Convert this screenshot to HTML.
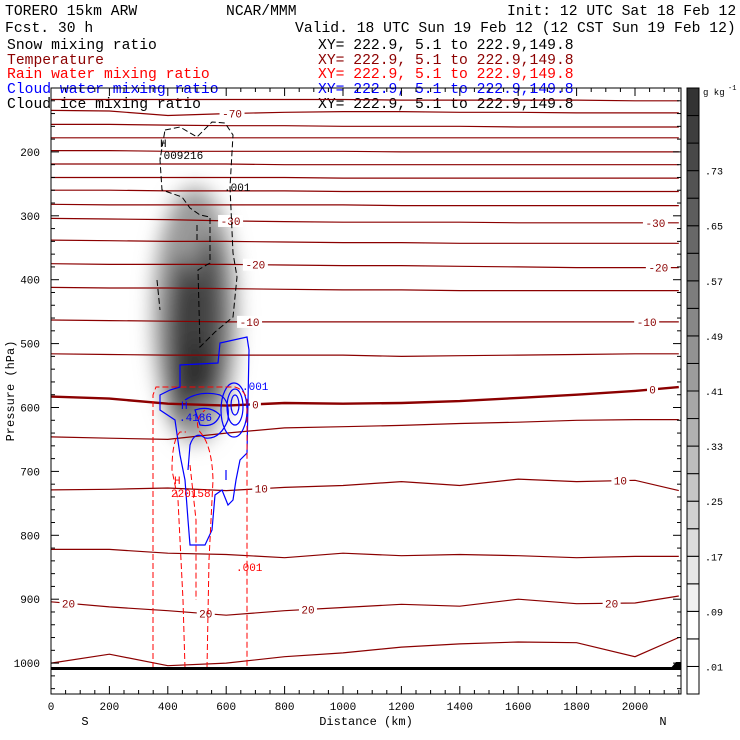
<!DOCTYPE html>
<html><head><meta charset="utf-8"><style>
body{margin:0;background:#fff;}
svg{display:block;font-family:"Liberation Mono",monospace;}
</style></head><body>
<svg id="chart" width="740" height="740" viewBox="0 0 740 740" xmlns="http://www.w3.org/2000/svg">
<defs>
<filter id="blur" x="-50%" y="-50%" width="200%" height="200%"><feGaussianBlur stdDeviation="10"/></filter>
<clipPath id="plotclip"><rect x="51" y="88" width="630" height="606"/></clipPath>
</defs>
<g font-size="14.7">
<text x="5" y="15" fill="#000">TORERO  15km ARW</text>
<text x="226" y="15" fill="#000">NCAR/MMM</text>
<text x="507" y="15" fill="#000">Init: 12 UTC Sat 18 Feb 12</text>
<text x="5" y="32" fill="#000">Fcst.   30 h</text>
<text x="295" y="32" fill="#000">Valid. 18 UTC Sun 19 Feb 12 (12 CST Sun 19 Feb 12)</text>
<text x="7" y="49" fill="#000">Snow mixing ratio</text>
<text x="318" y="49" fill="#000">XY= 222.9,  5.1 to 222.9,149.8</text>
<text x="7" y="64" fill="#8b0000">Temperature</text>
<text x="318" y="64" fill="#8b0000">XY= 222.9,  5.1 to 222.9,149.8</text>
<text x="7" y="78" fill="#ff0000">Rain water mixing ratio</text>
<text x="318" y="78" fill="#ff0000">XY= 222.9,  5.1 to 222.9,149.8</text>
<text x="7" y="93" fill="#0000ff">Cloud water mixing ratio</text>
<text x="318" y="93" fill="#0000ff">XY= 222.9,  5.1 to 222.9,149.8</text>
<text x="7" y="108" fill="#000">Cloud ice mixing ratio</text>
<text x="318" y="108" fill="#000">XY= 222.9,  5.1 to 222.9,149.8</text>
</g>
<g clip-path="url(#plotclip)">
<g filter="url(#blur)">
<ellipse cx="195" cy="315" rx="42" ry="128" fill="#999"/>
<ellipse cx="183" cy="340" rx="15" ry="85" fill="#3a3a3a"/>
<ellipse cx="209" cy="320" rx="15" ry="85" fill="#444"/>
<ellipse cx="196" cy="370" rx="25" ry="28" fill="#333"/>
</g>
<g id="isotherms"></g>
<path fill="none" stroke="#000" stroke-width="1" stroke-dasharray="6,3" d="M165,130 L180,127 L197,137 L212,122 L225,123 L233,135 L230,187 L233,253 L237,277 L233,317 L215,332 L210,337 L200,347 L198,270 L210,263 L210,217 L200,215 L190,208 L182,197 L162,190 L160,160 Z M157,280 L160,310 M197,225 L197,240"/>
<g fill="none" stroke="#0000ff" stroke-width="1.2">
<path d="M180,387 L180,365 L218,363 L220,343 L247,337 L249,350 L247,453 L240,460 L236,480 L233,500 L228,505 L222,490 L215,495 L212,530 L205,545 L190,545 L188,520 L185,480 L180,455 L175,420 L160,410 L160,395 L170,390 Z"/>
<path d="M185,400 Q200,390 220,395 Q230,400 228,420 Q220,440 205,438 Q195,430 190,445 L188,470"/>
<path d="M195,410 Q210,405 220,415 Q215,428 200,425 Z"/>
<ellipse cx="235" cy="405" rx="4" ry="10"/>
<ellipse cx="235" cy="407" rx="8" ry="18"/>
<ellipse cx="234" cy="410" rx="13" ry="27"/>
<path d="M226,470 L226,480"/>
</g>
<g fill="none" stroke="#ff0000" stroke-width="1" stroke-dasharray="6,3">
<path d="M153,668 L153,395 L156,387 L235,387 Q245,390 247,400 L247,668"/>
<path d="M185,668 L183,600 L178,500 L172,470 Q172,440 180,432 L186,432"/>
<path d="M207,668 L209,560 L213,480 Q212,445 200,432 Q193,420 205,410"/>
<path d="M190,465 L196,520 L196,600"/>
</g>
<rect x="51" y="667" width="640" height="3" fill="#000"/>
<path d="M670,669 L676,662 L681,662 L681,668 Z" fill="#000"/>
</g>
<g font-size="11">
<text x="160" y="147" fill="#000">H</text>
<text x="157" y="159" fill="#000">.009216</text>
<text x="224" y="191" fill="#000">.001</text>
<text x="242" y="390" fill="#0000ff">.001</text>
<text x="181" y="409" fill="#0000ff">H</text>
<text x="179" y="421" fill="#0000ff">.4186</text>
<text x="174" y="484" fill="#ff0000">H</text>
<text x="171" y="497" fill="#ff0000">220158</text>
<text x="236" y="571" fill="#ff0000">.001</text>
</g>
<g id="axes"></g>
<g id="colorbar"></g>
</svg>
<script>
// distance grid (km) at which isotherm pressures are read
const distKm = [0,200,400,600,800,1000,1200,1400,1600,1800,2000,2150];
const isoTemps = [-75,-70,-65,-60,-55,-50,-45,-40,-35,-30,-25,-20,-15,-10,-5,0,5,10,15,20,25];
const isoP = [
 [118,118,118,118,118,118,119,119,119,119,120,120],
 [135,136,143,140,138,137,137,138,138,139,139,139],
 [157,157,158,159,159,160,160,160,161,161,161,161],
 [178,178,178,178,178,178,178,178,178,178,178,178],
 [198,198,199,199,199,199,200,200,200,200,200,200],
 [219,219,219,219,220,220,220,220,220,220,220,220],
 [240,240,240,240,240,241,241,241,241,241,241,241],
 [260,260,261,261,261,262,262,262,262,262,262,262],
 [282,283,283,283,283,283,284,284,284,284,284,284],
 [304,305,306,308,309,310,310,310,311,311,311,311],
 [338,339,340,340,341,342,342,343,343,343,343,343],
 [375,376,376,376,377,378,378,379,380,381,381,381],
 [412,413,413,414,415,416,416,417,417,417,417,417],
 [463,464,465,466,466,466,466,466,466,466,466,466],
 [516,517,518,518,518,518,520,519,518,517,516,516],
 [583,586,594,597,593,594,593,590,585,580,574,568],
 [646,648,650,640,632,630,628,625,623,620,619,619],
 [729,728,726,730,725,722,716,722,712,716,714,730],
 [822,822,828,830,835,828,832,830,832,835,833,833],
 [904,912,918,925,918,913,908,911,900,907,906,895],
 [1000,986,1004,1000,990,984,975,970,967,968,990,960]
];
// isotherm labels: [distance km, temperature, text]
const isoLabels = [[615,-30,"-30"],[2070,-30,"-30"],[700,-20,"-20"],[2080,-20,"-20"],[680,-10,"-10"],[2040,-10,"-10"],[700,0,"0"],[2060,0,"0"],[720,10,"10"],[1950,10,"10"],[880,20,"20"],[530,20,"20"],[60,20,"20"],[1920,20,"20"],[620,-70,"-70"]];
const pTicks = [200,300,400,500,600,700,800,900,1000];
const xTicks = [0,200,400,600,800,1000,1200,1400,1600,1800,2000];
const cbLabels = [".01",".09",".17",".25",".33",".41",".49",".57",".65",".73"];

const NS="http://www.w3.org/2000/svg";
const X0=51,X1=681,Y0=88,Y1=694;
const xS = km => X0 + km*0.292;
const yS = p => 88 + (p-100)*0.639;
function mk(tag,attrs,parent){const e=document.createElementNS(NS,tag);for(const k in attrs)e.setAttribute(k,attrs[k]);parent.appendChild(e);return e;}
function interpP(row,km){for(let i=0;i<distKm.length-1;i++){if(km<=distKm[i+1]){const t=(km-distKm[i])/(distKm[i+1]-distKm[i]);return row[i]+t*(row[i+1]-row[i]);}}return row[row.length-1];}

const gIso=document.getElementById('isotherms');
isoP.forEach((row,i)=>{
  const pts=row.map((p,j)=>xS(distKm[j]).toFixed(1)+','+yS(p).toFixed(1)).join(' ');
  const pl=mk('polyline',{points:pts,fill:'none',stroke:'#8b0000','stroke-width':isoTemps[i]===0?2.4:1.2},gIso);
  
  
});
isoLabels.forEach(l=>{
  const i=isoTemps.indexOf(l[1]);
  const x=xS(l[0]), y=yS(interpP(isoP[i],l[0]));
  const w=l[2].length*7+4;
  mk('rect',{x:x-w/2,y:y-6,width:w,height:12,fill:'#fff'},gIso);
  const t=mk('text',{x:x,y:y+4,'text-anchor':'middle','font-size':11,fill:'#8b0000'},gIso);
  t.textContent=l[2];
  
  
});

const gA=document.getElementById('axes');
mk('rect',{x:X0,y:Y0,width:X1-X0,height:Y1-Y0,fill:'none',stroke:'#000','stroke-width':1},gA);
for(let p=100;p<=1040;p+=20){const y=yS(p);if(y<Y0||y>Y1)continue;const L=(p%100===0)?8:4;
  mk('line',{x1:X0,y1:y,x2:X0+L,y2:y,stroke:'#000'},gA);mk('line',{x1:X1,y1:y,x2:X1-L,y2:y,stroke:'#000'},gA);}
for(let k=0;k<=2150;k+=50){const x=xS(k);const L=(k%200===0)?8:4;
  mk('line',{x1:x,y1:Y1,x2:x,y2:Y1-L,stroke:'#000'},gA);mk('line',{x1:x,y1:Y0,x2:x,y2:Y0+L,stroke:'#000'},gA);}
pTicks.forEach(p=>{const t=mk('text',{x:40,y:yS(p)+4,'text-anchor':'end','font-size':11,fill:'#000'},gA);t.textContent=p;
  });
xTicks.forEach(k=>{const t=mk('text',{x:xS(k),y:710,'text-anchor':'middle','font-size':11,fill:'#000'},gA);t.textContent=k;
  });
let t=mk('text',{x:366,y:725,'text-anchor':'middle','font-size':12,fill:'#000'},gA);t.textContent='Distance (km)';

t=mk('text',{x:85,y:725,'text-anchor':'middle','font-size':12,fill:'#000'},gA);t.textContent='S';
t=mk('text',{x:663,y:725,'text-anchor':'middle','font-size':12,fill:'#000'},gA);t.textContent='N';
t=mk('text',{x:14,y:391,'text-anchor':'middle','font-size':12,fill:'#000',transform:'rotate(-90 14 391)'},gA);t.textContent='Pressure (hPa)';


const gC=document.getElementById('colorbar');
const nSeg=22,segH=(Y1-Y0)/nSeg;
for(let i=0;i<nSeg;i++){const g=i<3?255:Math.round(240-(i-3)*10.5);
  const r=mk('rect',{x:687,y:Y1-(i+1)*segH,width:12,height:segH,fill:`rgb(${g},${g},${g})`,stroke:'#000','stroke-width':1},gC);
  }
cbLabels.forEach((s,i)=>{const y=Y1-(1+i*2)*segH;const tt=mk('text',{x:705,y:y+4,'font-size':10,fill:'#000'},gC);tt.textContent=s;
  });
t=mk('text',{x:703,y:95,'font-size':9,fill:'#000'},gC);t.textContent='g kg';
t=mk('text',{x:728,y:90,'font-size':7,fill:'#000'},gC);t.textContent='-1';
</script>
</body></html>
